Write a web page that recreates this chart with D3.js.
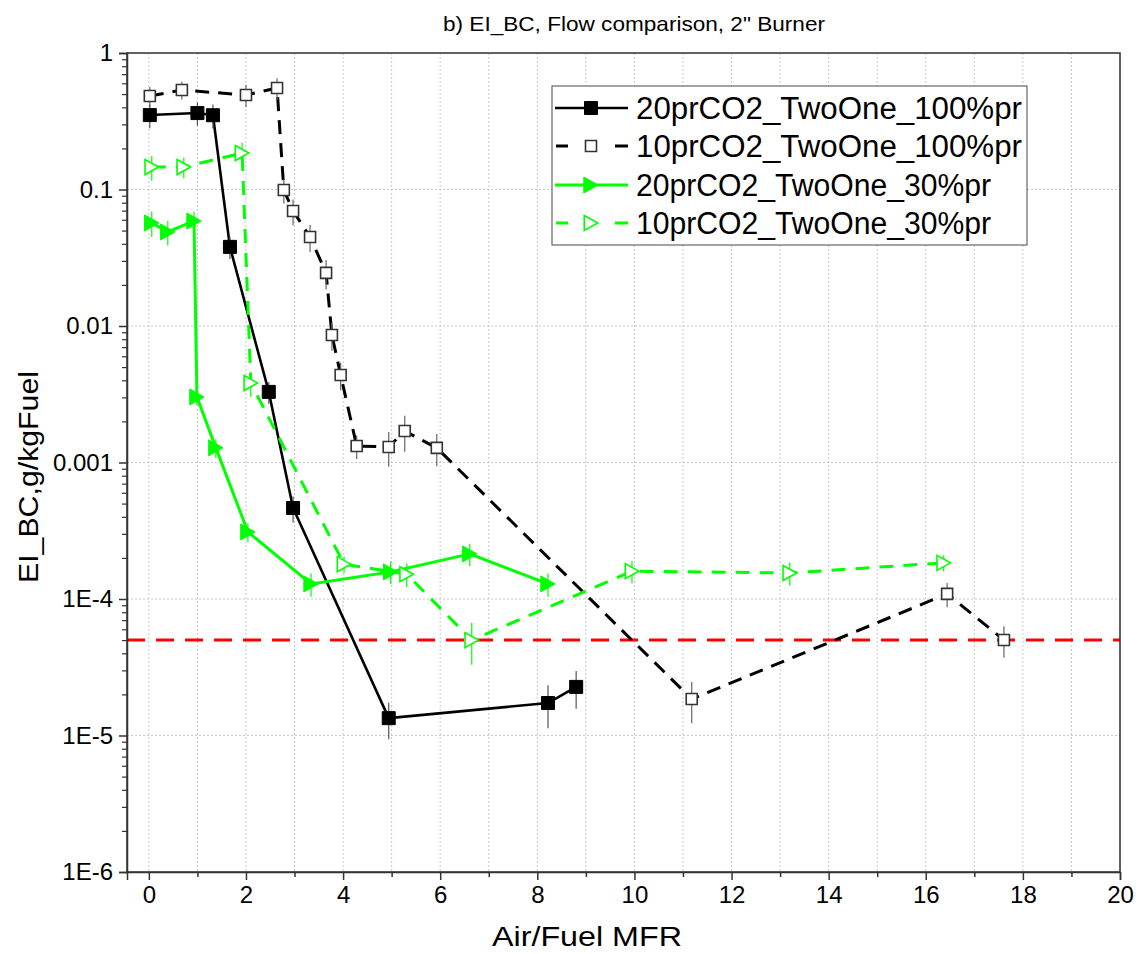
<!DOCTYPE html>
<html><head><meta charset="utf-8">
<script src="https://cdn.jsdelivr.net/npm/d3@7/dist/d3.min.js"></script>
<style>body{margin:0;background:#fff;}svg{display:block;font-family:Arial,"Liberation Sans",sans-serif;}</style>
</head><body><svg id="c" width="1140" height="954"></svg>
<script>
const titleText = 'b) EI_BC, Flow comparison, 2" Burner';
const xLabel = "Air/Fuel MFR";
const yLabel = "EI_BC,g/kgFuel";
const xTicks = [0,2,4,6,8,10,12,14,16,18,20];
const yTicks = [1,0.1,0.01,0.001,1e-4,1e-5,1e-6];
const yTickLabels = ["1","0.1","0.01","0.001","1E-4","1E-5","1E-6"];
const limitValue = 5e-5;

const seriesNames = ["20prCO2_TwoOne_100%pr","10prCO2_TwoOne_100%pr","20prCO2_TwoOne_30%pr","10prCO2_TwoOne_30%pr"];

const s1x = [0.02, 1.0, 1.32, 1.67, 2.47, 2.97, 4.94, 8.22, 8.8];
const s1y = [0.351, 0.363, 0.35, 0.038, 0.00329, 4.64e-4, 1.34e-5, 1.73e-5, 2.27e-5];
const s1e = [0.07, 0.07, 0.07, 0.007, 0.0006, 1.0e-4, 0.4e-5, 0.6e-5, 0.7e-5];

const s2x = [0.02, 0.68, 2.0, 2.64, 2.78, 2.97, 3.32, 3.65, 3.77, 3.95, 4.28, 4.94, 5.27, 5.93, 11.18, 16.44, 17.61];
const s2y = [0.484, 0.536, 0.492, 0.554, 0.0991, 0.0696, 0.0449, 0.0245, 0.00859, 0.00438, 0.00132, 0.0013, 0.0017, 0.00128, 1.85e-5, 1.09e-4, 5.01e-5];
const s2e = [0.08, 0.08, 0.09, 0.1, 0.02, 0.015, 0.01, 0.006, 0.002, 0.001, 0.00026, 0.00037, 0.0005, 0.00034, 0.62e-5, 0.22e-4, 1.3e-5];

const s3x = [0.06, 0.39, 0.93, 0.99, 1.38, 2.04, 3.34, 4.98, 6.61, 8.22];
const s3y = [0.0569, 0.0489, 0.0588, 0.00302, 0.00128, 3.1e-4, 1.29e-4, 1.58e-4, 2.14e-4, 1.29e-4];
const s3e = [0.012, 0.01, 0.01, 0.0004, 0.0002, 0.5e-4, 0.25e-4, 0.3e-4, 0.4e-4, 0.25e-4];

const s4x = [0.06, 0.72, 1.92, 2.10, 4.02, 5.31, 6.65, 9.95, 13.2, 16.37];
const s4y = [0.146, 0.146, 0.185, 0.00382, 1.80e-4, 1.52e-4, 5.0e-5, 1.60e-4, 1.55e-4, 1.84e-4];
const s4e = [0.03, 0.025, 0.035, 0.0008, 0.25e-4, 0.3e-4, 1.7e-5, 0.3e-4, 0.3e-4, 0.25e-4];

const GREEN = "#00ff00";
const styles = [
  {color:"#000", dash:null, width:2.6, marker:"sq", fill:"#000", size:13, err:"#555"},
  {color:"#000", dash:"14,9", width:3, marker:"sq", fill:"#fff", size:11, err:"#666"},
  {color:GREEN, dash:null, width:3, marker:"tri", fill:GREEN, size:16, err:GREEN},
  {color:GREEN, dash:"14,10", width:3, marker:"tri", fill:"#fff", size:15, err:GREEN}
];
const xs=[s1x,s2x,s3x,s4x], ys=[s1y,s2y,s3y,s4y], es=[s1e,s2e,s3e,s4e];
const series = seriesNames.map((n,i)=>({name:n, st:styles[i], pts:xs[i].map((x,j)=>({x, y:ys[i][j], e:es[i][j]}))}));

const L=127, R=1120, T=53, B=872;
const svg = d3.select("#c");
const x = d3.scaleLinear().domain([-0.45,20]).range([L,R]);
const y = d3.scaleLog().domain([1e-6,1]).range([B,T]);

// grid
const g = svg.append("g");
g.selectAll(".gx").data(d3.range(0,21)).join("line")
  .attr("x1",d=>x(d)).attr("x2",d=>x(d)).attr("y1",T).attr("y2",B)
  .attr("stroke","#c8c8c8").attr("stroke-width",1).attr("stroke-dasharray","2,2");
g.selectAll(".gy").data(yTicks).join("line")
  .attr("x1",L).attr("x2",R).attr("y1",d=>y(d)).attr("y2",d=>y(d))
  .attr("stroke","#c8c8c8").attr("stroke-width",1).attr("stroke-dasharray","2,2");

// limit line
svg.append("line").attr("x1",L).attr("x2",R).attr("y1",y(limitValue)).attr("y2",y(limitValue))
  .attr("stroke","#ff0000").attr("stroke-width",3).attr("stroke-dasharray","18,11");

// frame
svg.append("rect").attr("x",L).attr("y",T).attr("width",R-L).attr("height",B-T)
  .attr("fill","none").attr("stroke","#333").attr("stroke-width",1.5);

// axes
const xAxis = d3.axisBottom(x).tickValues(xTicks).tickFormat(d3.format("d")).tickSize(8).tickPadding(6);
const xa = svg.append("g").attr("transform",`translate(0,${B})`).call(xAxis);
xa.select(".domain").attr("stroke","#333").attr("stroke-width",1.5);
xa.selectAll(".tick line").attr("stroke","#333").attr("stroke-width",1.5);
xa.selectAll("text").attr("font-size",24).attr("fill","#000").attr("font-family","Arial, 'Liberation Sans', sans-serif");
const xMinor = d3.axisBottom(x).tickValues(d3.range(1,20,2)).tickFormat("").tickSize(5);
const xm = svg.append("g").attr("transform",`translate(0,${B})`).call(xMinor);
xm.select(".domain").remove();
xm.selectAll(".tick line").attr("stroke","#333").attr("stroke-width",1.5);

const yAxis = d3.axisLeft(y).tickValues(yTicks).tickFormat((d,i)=>yTickLabels[i]).tickSize(8).tickPadding(6);
const ya = svg.append("g").attr("transform",`translate(${L},0)`).call(yAxis);
ya.select(".domain").attr("stroke","#333").attr("stroke-width",1.5);
ya.selectAll(".tick line").attr("stroke","#333").attr("stroke-width",1.5);
ya.selectAll("text").attr("font-size",24).attr("fill","#000").attr("font-family","Arial, 'Liberation Sans', sans-serif");
const minorY = [];
for (let dec=-6; dec<0; dec++) for (let m=2; m<=9; m++) minorY.push(m*Math.pow(10,dec));
const yMinor = d3.axisLeft(y).tickValues(minorY).tickFormat("").tickSize(5);
const ym = svg.append("g").attr("transform",`translate(${L},0)`).call(yMinor);
ym.select(".domain").remove();
ym.selectAll(".tick line").attr("stroke","#333").attr("stroke-width",1.2);

// labels
svg.append("text").attr("x",634).attr("y",31).attr("text-anchor","middle").attr("font-size",21)
  .attr("textLength",382).attr("lengthAdjust","spacingAndGlyphs").text(titleText);
svg.append("text").attr("x",587).attr("y",946).attr("text-anchor","middle").attr("font-size",28)
  .attr("textLength",190).attr("lengthAdjust","spacingAndGlyphs").text(xLabel);
svg.append("text").attr("transform","translate(38,477) rotate(-90)").attr("text-anchor","middle").attr("font-size",28)
  .attr("textLength",212).attr("lengthAdjust","spacingAndGlyphs").text(yLabel);

function markerPath(type,s){
  if(type==="sq"){const h=s/2;return `M${-h},${-h}H${h}V${h}H${-h}Z`;}
  const w=s*0.9, h=s; return `M${-w/2},${-h/2}L${w/2},0L${-w/2},${h/2}Z`;
}

const line = d3.line().x(d=>x(d.x)).y(d=>y(d.y));
const plot = svg.append("g");
// lines
series.forEach(s=>{
  plot.append("path").datum(s.pts).attr("d",line).attr("fill","none")
    .attr("stroke",s.st.color).attr("stroke-width",s.st.width)
    .attr("stroke-dasharray",s.st.dash).attr("stroke-linejoin","round");
});
// error bars
series.forEach(s=>{
  plot.append("g").selectAll("line").data(s.pts).join("line")
    .attr("x1",d=>x(d.x)).attr("x2",d=>x(d.x))
    .attr("y1",d=>y(d.y+d.e)).attr("y2",d=>y(Math.max(d.y-d.e,1e-7)))
    .attr("stroke",s.st.err).attr("stroke-width",1.2);
});
// markers
series.forEach(s=>{
  const open = s.st.fill==="#fff";
  plot.append("g").selectAll("path").data(s.pts).join("path")
    .attr("transform",d=>`translate(${x(d.x)},${y(d.y)})`)
    .attr("d",markerPath(s.st.marker,s.st.size))
    .attr("fill",s.st.fill).attr("stroke",s.st.color==="#000"?(open?"#333":"#000"):s.st.color)
    .attr("stroke-width",open?1.6:1);
});

// legend
const lg = svg.append("g");
lg.append("rect").attr("x",552).attr("y",86).attr("width",475).attr("height",159)
  .attr("fill","#fff").attr("stroke","#666").attr("stroke-width",1.2);
const rowY=[108,146,185,223];
series.forEach((s,i)=>{
  const yy=rowY[i];
  const segs = s.st.dash ? [[556,568],[615,628]] : [[555,628]];
  segs.forEach(sg=>{
    lg.append("line").attr("x1",sg[0]).attr("x2",sg[1]).attr("y1",yy).attr("y2",yy)
      .attr("stroke",s.st.color).attr("stroke-width",s.st.width);
  });
  const open = s.st.fill==="#fff";
  lg.append("path").attr("transform",`translate(591,${yy})`).attr("d",markerPath(s.st.marker,s.st.size))
    .attr("fill",s.st.fill).attr("stroke",s.st.color==="#000"?(open?"#333":"#000"):s.st.color).attr("stroke-width",open?1.6:1);
  const t = lg.append("text").attr("x",636).attr("y",yy+11).attr("font-size",31).text(s.name);
  t.attr("textLength", i<2?386:355).attr("lengthAdjust","spacingAndGlyphs");
});
</script></body></html>
